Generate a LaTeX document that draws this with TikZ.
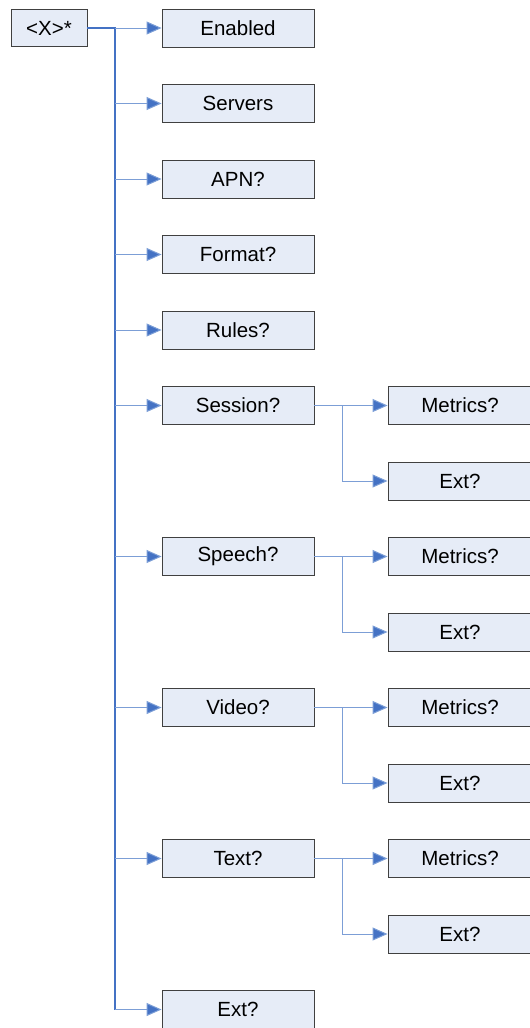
\documentclass[tikz,border=0pt]{standalone}
\usepackage{fontspec}
\setmainfont{Liberation Sans}
\usetikzlibrary{arrows.meta}
\definecolor{boxfill}{HTML}{E6ECF7}
\definecolor{boxline}{HTML}{404040}
\definecolor{linkblue}{HTML}{4472C4}
\definecolor{linklight}{HTML}{7C9ED6}
\tikzset{
  nodebox/.style={draw=boxline, line width=0.9pt, fill=boxfill, minimum height=38pt, inner sep=0pt, font=\fontsize{20.5}{24}\selectfont, text=black},
  mainbox/.style={nodebox, minimum width=152pt},
  childbox/.style={nodebox, minimum width=144pt},
  trunk/.style={draw=linkblue, line width=1.6pt},
  link/.style={draw=linklight, line width=1pt, -{Triangle[length=15pt,width=13pt,fill=linkblue]}},
  sublink/.style={draw=linklight, line width=1pt},
}
\begin{document}
\begin{tikzpicture}[x=1pt,y=-1pt]
\useasboundingbox (0,0) rectangle (530,1028);
\node[nodebox, minimum width=76pt, minimum height=37pt] (root) at (49,28) {<X>*};
\coordinate (tr0) at (115,28);
\node[mainbox] (en) at (238,28) {Enabled};
\node[mainbox] (sv) at (238,103.5) {Servers};
\node[mainbox] (apn) at (238,179) {APN?};
\node[mainbox] (fm) at (238,254.5) {Format?};
\node[mainbox] (ru) at (238,330) {Rules?};
\node[mainbox] (se) at (238,405.5) {Session?};
\node[mainbox] (sp) at (238,556.5) {Speech?};
\node[mainbox] (vi) at (238,707.5) {Video?};
\node[mainbox] (te) at (238,858.5) {Text?};
\node[mainbox] (ex) at (238,1009.5) {Ext?};
\coordinate (trE) at (115,1009.5);
\draw[trunk] (root.east) -- (tr0) -- (trE);
\foreach \n in {en,sv,apn,fm,ru,se,sp,vi,te,ex}{
  \draw[link] (tr0 |- \n.west) -- (\n.west);
}
\foreach \p/\y in {se/405.5,sp/556.5,vi/707.5,te/858.5}{
  \node[childbox] (\p m) at (460,\y) {Metrics?};
  \node[childbox] (\p e) at (460,\y+75.5) {Ext?};
  \coordinate (\p b) at (342,\y);
  \draw[sublink] (\p.east) -- (\p b);
  \draw[sublink] (\p b) -- (\p b |- \p e.west);
  \draw[link] (\p b) -- (\p m.west);
  \draw[link] (\p b |- \p e.west) -- (\p e.west);
}
\end{tikzpicture}
\end{document}
